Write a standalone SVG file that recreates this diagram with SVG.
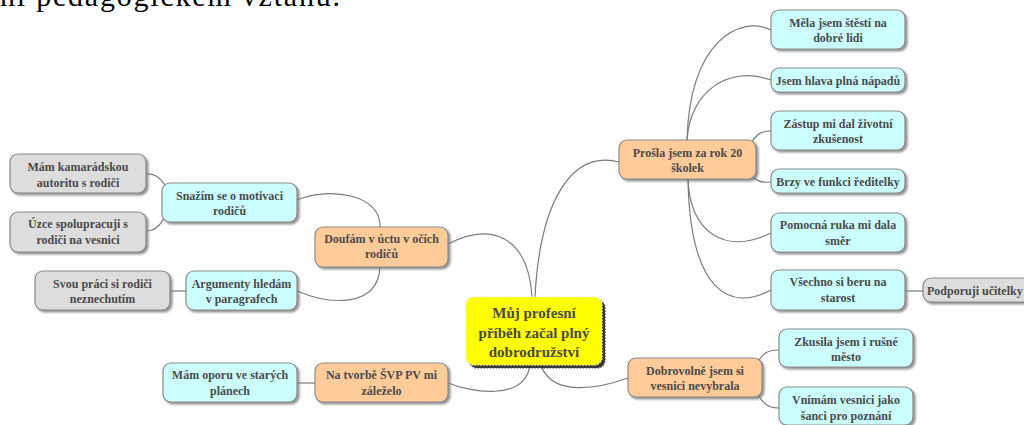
<svg xmlns="http://www.w3.org/2000/svg" width="1024" height="425" viewBox="0 0 1024 425">
<defs>
<filter id="sh" x="-10%" y="-20%" width="130%" height="150%">
<feDropShadow dx="2" dy="2" stdDeviation="1" flood-color="#777" flood-opacity="0.8"/>
</filter>
<filter id="shc" x="-10%" y="-20%" width="130%" height="150%">
<feDropShadow dx="3" dy="3" stdDeviation="0.6" flood-color="#222" flood-opacity="0.9"/>
</filter>
<style>
.n rect{stroke:#8a8a8a;stroke-width:1.2;filter:url(#sh)}
.c rect{fill:#ccffff}
.o rect{fill:#ffcc99}
.g rect{fill:#dddddd}
.y rect{fill:#ffff00;stroke:#e8e8c0;stroke-dasharray:1.5 1.5;filter:url(#shc)}
.n text{font-family:"Liberation Serif","DejaVu Serif",serif;font-weight:bold;font-size:12px;fill:#4a4a4a;text-anchor:middle}
.y text{font-size:15px}
#edges path{fill:none;stroke:#7a7a7a;stroke-width:1.2}
.top{font-family:"Liberation Serif",serif;font-size:30px;fill:#000}
</style>
</defs>
<rect width="1024" height="425" fill="#ffffff"/>
<text class="top" x="0" y="6" textLength="340" lengthAdjust="spacing">ní pedagogickém vztahu.</text>

<g id="edges">
<path d="M448,244 C490,222 528,235 532,297"/>
<path d="M535,297 C540,200 572,150 619,162"/>
<path d="M530,365 C525,402 470,392 448,383"/>
<path d="M541,365 C552,398 600,388 628,378"/>
<path d="M380,227 C382,195 330,186 297,200"/>
<path d="M380,267 C378,308 330,305 297,291"/>
<path d="M146,174 C155,173 160,178 165,185"/>
<path d="M146,231 C155,231 160,226 164,218"/>
<path d="M170,291 L186,291"/>
<path d="M297,383 L315,383"/>
<path d="M687,140 C690,40 740,15 771,30"/>
<path d="M687,140 C690,90 730,65 771,80"/>
<path d="M752,142 C757,133 763,131 771,131"/>
<path d="M752,176 C757,182 763,183 771,182"/>
<path d="M688,179 C690,232 725,256 771,233"/>
<path d="M688,179 C690,292 730,312 771,290"/>
<path d="M904,291 L923,291"/>
<path d="M759,360 C764,352 770,350 779,350"/>
<path d="M758,395 C764,405 770,408 779,408"/>
</g>

<g id="center" class="n y"><rect x="466" y="297" width="136" height="68" rx="8"/>
<text x="534" y="318">Můj profesní</text><text x="534" y="338">příběh začal plný</text><text x="534" y="357">dobrodružství</text></g>

<g id="n-doufam" class="n o"><rect x="315" y="227" width="133" height="40" rx="8"/>
<text x="381.5" y="243">Doufám v úctu v očích</text><text x="381.5" y="258">rodičů</text></g>
<g id="n-svp" class="n o"><rect x="315" y="363" width="133" height="39" rx="8"/>
<text x="381.5" y="379">Na tvorbě ŠVP PV mi</text><text x="381.5" y="395">záleželo</text></g>
<g id="n-snazim" class="n c"><rect x="162" y="183" width="135" height="39" rx="8"/>
<text x="229.5" y="200">Snažím se o motivaci</text><text x="229.5" y="215">rodičů</text></g>
<g id="n-argumenty" class="n c"><rect x="186" y="271" width="111" height="39" rx="8"/>
<text x="241.5" y="288">Argumenty hledám</text><text x="241.5" y="303">v paragrafech</text></g>
<g id="n-kamaradska" class="n g"><rect x="10" y="154" width="136" height="39" rx="8"/>
<text x="78" y="171">Mám kamarádskou</text><text x="78" y="187">autoritu s rodiči</text></g>
<g id="n-uzce" class="n g"><rect x="10" y="212" width="136" height="40" rx="8"/>
<text x="78" y="228">Úzce spolupracuji s</text><text x="78" y="244">rodiči na vesnici</text></g>
<g id="n-svou" class="n g"><rect x="35" y="271" width="135" height="39" rx="8"/>
<text x="102.5" y="288">Svou práci si rodiči</text><text x="102.5" y="303">neznechutím</text></g>
<g id="n-opora" class="n c"><rect x="163" y="363" width="134" height="39" rx="8"/>
<text x="230" y="379">Mám oporu ve starých</text><text x="230" y="395">plánech</text></g>

<g id="n-prosla" class="n o"><rect x="619" y="140" width="137" height="39" rx="8"/>
<text x="687.5" y="157">Prošla jsem za rok 20</text><text x="687.5" y="172">školek</text></g>
<g id="n-dobrovolne" class="n o"><rect x="628" y="358" width="134" height="39" rx="8"/>
<text x="695" y="375">Dobrovolně jsem si</text><text x="695" y="390">vesnici nevybrala</text></g>
<g id="n-mela" class="n c"><rect x="771" y="10" width="134" height="39" rx="8"/>
<text x="838" y="27">Měla jsem štěstí na</text><text x="838" y="42">dobré lidi</text></g>
<g id="n-hlava" class="n c"><rect x="771" y="68" width="134" height="24" rx="8"/>
<text x="838" y="85">Jsem hlava plná nápadů</text></g>
<g id="n-zastup" class="n c"><rect x="771" y="111" width="134" height="39" rx="8"/>
<text x="838" y="128">Zástup mi dal životní</text><text x="838" y="143">zkušenost</text></g>
<g id="n-brzy" class="n c"><rect x="771" y="169" width="134" height="24" rx="8"/>
<text x="838" y="186">Brzy ve funkci ředitelky</text></g>
<g id="n-pomocna" class="n c"><rect x="771" y="213" width="134" height="39" rx="8"/>
<text x="838" y="229">Pomocná ruka mi dala</text><text x="838" y="245">směr</text></g>
<g id="n-vsechno" class="n c"><rect x="771" y="270" width="134" height="40" rx="8"/>
<text x="838" y="286">Všechno si beru na</text><text x="838" y="302">starost</text></g>
<g id="n-podporuji" class="n g"><rect x="923" y="278" width="130" height="24" rx="8"/>
<text x="927" y="295" style="text-anchor:start">Podporuji učitelky</text></g>
<g id="n-zkusila" class="n c"><rect x="779" y="329" width="134" height="38" rx="8"/>
<text x="846" y="346">Zkusila jsem i rušné</text><text x="846" y="361">město</text></g>
<g id="n-vnimam" class="n c"><rect x="779" y="387" width="134" height="38" rx="8"/>
<text x="846" y="404">Vnímám vesnici jako</text><text x="846" y="420">šanci pro poznání</text></g>
</svg>
